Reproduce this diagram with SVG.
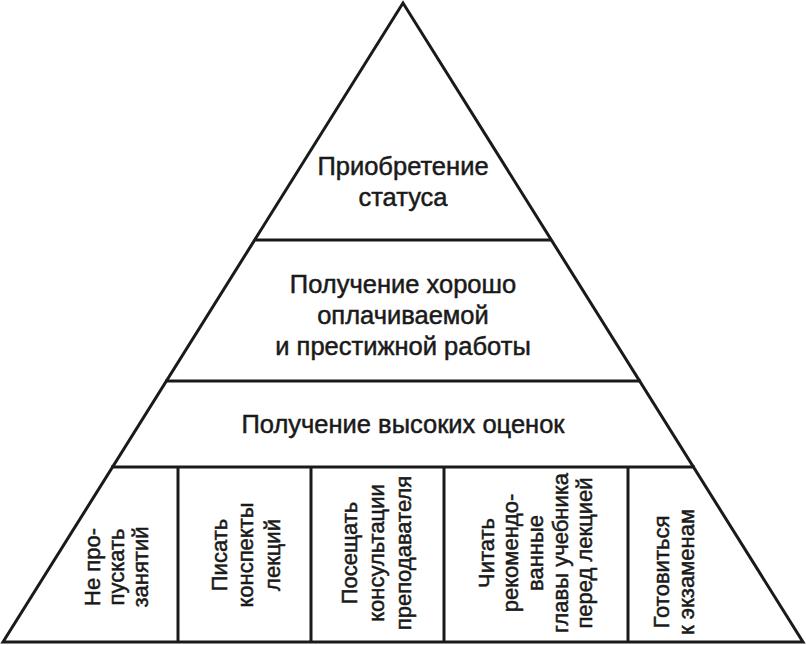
<svg xmlns="http://www.w3.org/2000/svg" width="806" height="645" viewBox="0 0 806 645">
<style>
.l{stroke:#1a1a1a;stroke-width:3;fill:none}
.t{font-family:"Liberation Sans",Arial,sans-serif;font-size:25.5px;fill:#1a1a1a;stroke:#1a1a1a;stroke-width:0.5;text-anchor:middle}
.s{font-family:"Liberation Sans",Arial,sans-serif;font-size:22px;fill:#1a1a1a;stroke:#1a1a1a;stroke-width:0.5;text-anchor:middle}
</style>
<rect width="806" height="645" fill="#fff"/>
<g id="connectors">
<polygon class="l" points="403,3 3,642 803,642"/>
<line class="l" x1="254" y1="240" x2="552" y2="240"/>
<line class="l" x1="165" y1="381" x2="641" y2="381"/>
<line class="l" x1="111" y1="467" x2="695" y2="467"/>
<line class="l" x1="178" y1="467" x2="178" y2="642"/>
<line class="l" x1="311" y1="467" x2="311" y2="642"/>
<line class="l" x1="444" y1="467" x2="444" y2="642"/>
<line class="l" x1="628" y1="467" x2="628" y2="642"/>
</g>
<g id="n1"><text class="t" x="403" y="175">Приобретение</text><text class="t" x="403" y="206">статуса</text></g>
<g id="n2"><text class="t" x="403" y="293">Получение хорошо</text><text class="t" x="403" y="324">оплачиваемой</text><text class="t" x="403" y="355">и престижной работы</text></g>
<g id="n3"><text class="t" x="403" y="433">Получение высоких оценок</text></g>
<g id="b1" transform="translate(0,567) rotate(-90)"><text class="s" x="0" y="100">Не про-</text><text class="s" x="0" y="124">пускать</text><text class="s" x="0" y="148">занятий</text></g>
<g id="b2" transform="translate(0,555) rotate(-90)"><text class="s" x="0" y="227">Писать</text><text class="s" x="0" y="253">конспекты</text><text class="s" x="0" y="280">лекций</text></g>
<g id="b3" transform="translate(0,553) rotate(-90)"><text class="s" x="0" y="357">Посещать</text><text class="s" x="0" y="384">консультации</text><text class="s" x="0" y="411">преподавателя</text></g>
<g id="b4" transform="translate(0,553) rotate(-90)"><text class="s" x="0" y="494">Читать</text><text class="s" x="0" y="518">рекомендо-</text><text class="s" x="0" y="543">ванные</text><text class="s" x="0" y="568">главы учебника</text><text class="s" x="0" y="592">перед лекцией</text></g>
<g id="b5" transform="translate(0,572) rotate(-90)"><text class="s" x="0" y="669">Готовиться</text><text class="s" x="0" y="694">к экзаменам</text></g>
</svg>
